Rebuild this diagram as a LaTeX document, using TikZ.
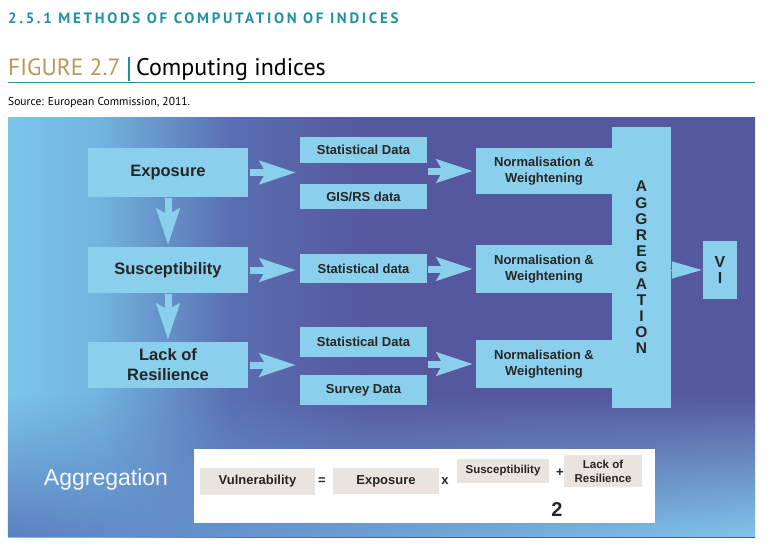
\documentclass[tikz,border=0pt]{standalone}
\usepackage{fontspec}
\setmainfont{Liberation Sans}
\newfontfamily\myriad{PT Sans}
\newfontfamily\spacedhead[LetterSpace=18]{PT Sans}
\usepackage{xcolor}
\usetikzlibrary{arrows.meta,positioning,fadings}
\definecolor{TealHead}{RGB}{32,145,163}
\definecolor{GoldFig}{RGB}{186,150,88}
\definecolor{BoxBlue}{RGB}{138,207,236}
\definecolor{BgLight}{RGB}{122,198,234}
\definecolor{BgMid}{RGB}{92,128,192}
\definecolor{BgDark}{RGB}{86,88,158}
\definecolor{BgLow}{RGB}{128,198,234}
\definecolor{TermGrey}{RGB}{234,228,222}
\pgfdeclarehorizontalshading{panelshade}{100bp}{color(0bp)=(BgLight); color(25bp)=(BgLight); color(31bp)=(BgLight!75!BgMid); color(40bp)=(BgMid!55!BgDark); color(49bp)=(BgDark); color(100bp)=(BgDark)}
\newcommand{\pxsize}[2]{\fontsize{#1}{#2}\selectfont}

\begin{document}
\begin{tikzpicture}[x=1pt,y=-1pt,
  bigbox/.style={fill=BoxBlue,text=black!85,font=\bfseries\pxsize{16.5}{20},minimum width=160pt,minimum height=47pt,align=center,inner sep=0pt},
  datbox/.style={fill=BoxBlue,text=black!85,font=\bfseries\pxsize{13}{16.5},minimum width=127pt,minimum height=28pt,align=center,inner sep=0pt},
  normbox/.style={datbox,minimum width=136pt,minimum height=47pt},
  fatarr/.style={draw=BoxBlue,line width=7pt,-{Stealth[width=23pt,length=36pt,inset=6pt]}},
  wedgearr/.style={draw=BoxBlue,line width=1pt,-{Triangle[width=17pt,length=30pt]}},
  termbox/.style={fill=TermGrey,text=black!85,font=\bfseries\pxsize{13}{15},align=center,inner sep=0pt},
  opsym/.style={text=black!85,font=\bfseries\pxsize{13}{13},inner sep=0pt}]
  \useasboundingbox (0,0) rectangle (771,551);
  \fill[white] (0,0) rectangle (771,551);

  % heading
  \node[anchor=base west,inner sep=0pt,text=TealHead,font=\spacedhead\bfseries\pxsize{15}{15}] (sect) at (8,23.3) {2.5.1 METHODS OF COMPUTATION OF INDICES};
  \node[anchor=base west,inner sep=0pt,text=GoldFig,font=\myriad\pxsize{23.5}{23.5}] (fignum) at (8,76) {FIGURE 2.7};
  \draw[TealHead,line width=1.6pt] (129,57) -- (129,81);
  \node[anchor=base west,inner sep=0pt,font=\myriad\pxsize{24}{24}] (figtitle) at (136,76) {Computing indices};
  \draw[TealHead,line width=1.3pt] (8,82.5) -- (755,82.5);
  \node[anchor=base west,inner sep=0pt,font=\myriad\pxsize{11.5}{11.5}] (src) at (8,106) {Source: European Commission, 2011.};

  % panel
  \shade[shading=panelshade] (8,117) rectangle (755,537);
  \shade[left color=BgMid,right color=BgLow,path fading=north] (8,395) rectangle (755,537);

  % components
  \node[bigbox,minimum height=49pt] (expo) at (168,172.5) {Exposure};
  \node[bigbox,minimum height=46pt] (susc) at (168,270) {Susceptibility};
  \node[bigbox,minimum height=46pt] (lack) at (168,365) {Lack of\\Resilience};

  % data
  \node[datbox,minimum height=26pt] (sd1) at (363.5,150) {Statistical Data};
  \node[datbox,minimum height=25pt] (gis) at (363.5,196.5) {GIS/RS data};
  \node[datbox,minimum height=29pt] (sd2) at (363.5,268.5) {Statistical data};
  \node[datbox,minimum height=30pt] (sd3) at (363.5,342) {Statistical Data};
  \node[datbox,minimum height=30pt] (surv) at (363.5,390) {Survey Data};

  % normalisation
  \node[normbox,minimum height=46pt] (norm1) at (544,171) {Normalisation \&\\Weightening};
  \node[normbox,minimum height=48pt] (norm2) at (544,269) {Normalisation \&\\Weightening};
  \node[normbox,minimum height=48pt] (norm3) at (544,364) {Normalisation \&\\Weightening};

  \node[fill=BoxBlue,minimum width=59pt,minimum height=281pt,inner sep=0pt,align=center,
        font=\bfseries\pxsize{15.5}{16.2},text=black!85] (aggr) at (641.5,267.5)
        {A\\G\\G\\R\\E\\G\\A\\T\\I\\O\\N};
  \node[fill=BoxBlue,minimum width=34pt,minimum height=58pt,inner sep=0pt,align=center,
        font=\bfseries\pxsize{16}{15.5},text=black!85] (vi) at (720,270) {V\\I};

  % arrows
  \draw[fatarr] ([xshift=2pt]expo.east) -- ([xshift=-4pt]expo.east -| sd1.west);
  \draw[fatarr] ([xshift=2pt]susc.east) -- ([xshift=-4pt]susc.east -| sd2.west);
  \draw[fatarr] ([xshift=2pt]lack.east) -- ([xshift=-4pt]lack.east -| sd3.west);
  \draw[fatarr] ([xshift=1pt]sd1.east |- norm1.west) -- ([xshift=-3pt]norm1.west);
  \draw[fatarr] ([xshift=1pt]sd2.east |- norm2.west) -- ([xshift=-3pt]norm2.west);
  \draw[fatarr] ([xshift=1pt]sd3.east |- norm3.west) -- ([xshift=-3pt]norm3.west);
  \draw[fatarr,shorten <=1pt,shorten >=2pt] (expo.south) -- (susc.north);
  \draw[fatarr,shorten <=1pt,shorten >=2pt] (susc.south) -- (lack.north);
  \draw[wedgearr,shorten >=1pt] (aggr.east |- vi.west) -- (vi.west);

  % formula
  \node[text=white!94!gray,font=\pxsize{23}{23}] (agglab) at (106,480) {Aggregation};
  \node[fill=white,minimum width=461pt,minimum height=74pt,inner sep=0pt] (frame) at (424.5,486) {};
  \node[termbox,minimum width=115pt,minimum height=27pt] (fvul) at (257.5,481.5) {Vulnerability};
  \node[opsym] (eq) at (322,481) {=};
  \node[termbox,minimum width=106pt,minimum height=26pt] (fexp) at (386,481) {Exposure};
  \node[opsym] (times) at (445,481) {x};
  \node[termbox,font=\bfseries\pxsize{11.5}{14},minimum width=92pt,minimum height=24pt] (fsus) at (503,471) {Susceptibility};
  \node[opsym] (plus) at (560,473) {+};
  \node[termbox,font=\bfseries\pxsize{11.5}{14},minimum width=78pt,minimum height=32pt] (flack) at (603,471) {Lack of\\Resilience};
  \node[font=\bfseries\pxsize{20}{20},text=black!85] (two) at (557,510) {2};
\end{tikzpicture}
\end{document}
